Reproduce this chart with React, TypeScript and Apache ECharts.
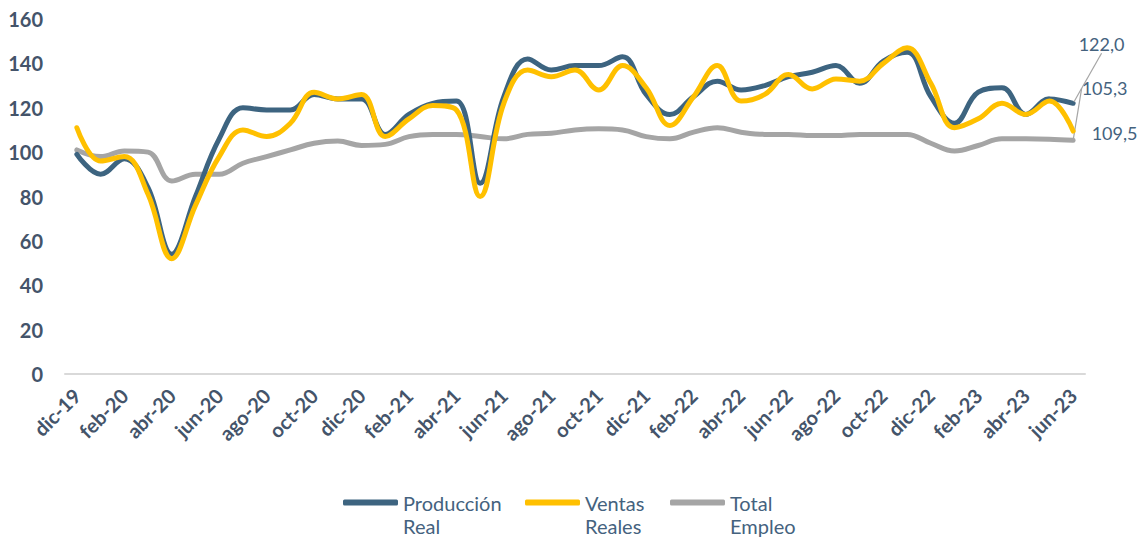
import React, { useEffect, useRef } from "react";
import * as echarts from "echarts";

const categories = [
  "dic-19", "ene-20", "feb-20", "mar-20", "abr-20", "may-20", "jun-20", "jul-20", "ago-20", "sep-20", "oct-20", "nov-20",
  "dic-20", "ene-21", "feb-21", "mar-21", "abr-21", "may-21", "jun-21", "jul-21", "ago-21", "sep-21", "oct-21", "nov-21",
  "dic-21", "ene-22", "feb-22", "mar-22", "abr-22", "may-22", "jun-22", "jul-22", "ago-22", "sep-22", "oct-22", "nov-22",
  "dic-22", "ene-23", "feb-23", "mar-23", "abr-23", "may-23", "jun-23",
];

const produccionReal = [
  99, 90, 97, 84, 54, 80, 106, 120, 119, 119, 126, 124,
  124, 108, 117, 122, 123, 86, 125, 142, 137, 139, 139, 143,
  126, 117, 125, 132, 128, 130, 134, 136, 139, 131, 141, 145,
  125, 113, 127, 129, 117, 124, 122.0,
];

const ventasReales = [
  111, 96, 98, 81, 52, 76, 98, 110, 107, 113, 127, 124,
  126, 107, 115, 121, 119, 80, 122, 137, 134, 137, 128, 139,
  129, 112, 125, 139, 123, 126, 135, 128.5, 133, 132, 140, 147,
  131, 111, 115, 122, 117, 123, 109.5,
];

const totalEmpleo = [
  101, 98, 100.5, 100, 87, 90, 90, 95, 98, 101, 104, 105,
  103, 103.5, 107, 108, 108, 107, 106, 108, 108.5, 110, 110.5, 110,
  107, 106, 109, 111, 109, 108, 108, 107.5, 107.5, 108, 108, 108,
  104, 100.5, 103, 106, 106, 105.8, 105.3,
];

const yTicks = { min: 0, max: 160, interval: 20 };

const seriesNames = ["Producción Real", "Ventas Reales", "Total Empleo"];
const colors = ["#3d6480", "#ffc000", "#a5a5a5"];

const fmt = (v: number) => v.toFixed(1).replace(".", ",");

function withEndLabel(values: number[], color: string) {
  return values.map((v, i) =>
    i === values.length - 1
      ? {
          value: v,
          symbol: "circle",
          symbolSize: 3,
          itemStyle: { color },
          label: {
            show: true,
            position: "right",
            distance: 5,
            formatter: fmt(v),
            color: "#44627e",
            fontFamily: "Lato",
            fontSize: 18,
          },
        }
      : v
  );
}

function makeSeries(name: string, values: number[], color: string, dx: number, dy: number, showLine: boolean, z: number) {
  return {
    name,
    type: "line",
    data: withEndLabel(values, color),
    smooth: 0.4,
    symbol: "none",
    lineStyle: { color, width: 5, cap: "round" },
    itemStyle: { color },
    labelLayout: { dx, dy },
    labelLine: {
      show: showLine,
      lineStyle: { color: "#a5a5a5", width: 1.2 },
    },
    z,
  };
}

export default function App() {
  const ref = useRef<HTMLDivElement>(null);

  useEffect(() => {
    if (!ref.current) return;
    const chart = echarts.init(ref.current, null, { renderer: "svg" });

    const legendCommon = {
      orient: "horizontal",
      top: 468,
      padding: 0,
      itemWidth: 55,
      itemHeight: 6,
      icon: "roundRect",
      formatter: (name: string) => "\n" + name.replace(" ", "\n"),
      textStyle: {
        color: "#44627e",
        fontFamily: "Lato",
        fontSize: 20,
        lineHeight: 23,
      },
    };

    chart.setOption({
      animation: false,
      backgroundColor: "#ffffff",
      grid: { left: 65, right: 55, top: 19, bottom: 165, containLabel: false },
      legend: [
        { ...legendCommon, left: 343, data: [seriesNames[0]] },
        { ...legendCommon, left: 525, data: [seriesNames[1]] },
        { ...legendCommon, left: 670, data: [seriesNames[2]] },
      ],
      xAxis: {
        type: "category",
        data: categories,
        boundaryGap: true,
        axisLine: { show: true, lineStyle: { color: "#d9d9d9", width: 2 } },
        axisTick: { show: false },
        axisLabel: {
          interval: 1,
          rotate: 45,
          margin: 18,
          color: "#44546a",
          fontFamily: "Lato",
          fontWeight: "bold",
          fontSize: 20,
        },
        splitLine: { show: false },
      },
      yAxis: {
        type: "value",
        min: yTicks.min,
        max: yTicks.max,
        interval: yTicks.interval,
        axisLine: { show: false },
        axisTick: { show: false },
        splitLine: { show: false },
        axisLabel: {
          margin: 22,
          color: "#44546a",
          fontFamily: "Lato",
          fontWeight: "bold",
          fontSize: 20,
        },
      },
      series: [
        makeSeries(seriesNames[2], totalEmpleo, colors[2], 2, -52, true, 2),
        makeSeries(seriesNames[0], produccionReal, colors[0], -1, -59, true, 3),
        makeSeries(seriesNames[1], ventasReales, colors[1], 12, 2, false, 4),
      ],
    });

    return () => chart.dispose();
  }, []);

  return (
    <div
      ref={ref}
      style={{ position: "fixed", left: 0, top: 0, width: 1140, height: 539, background: "#fff" }}
    />
  );
}
